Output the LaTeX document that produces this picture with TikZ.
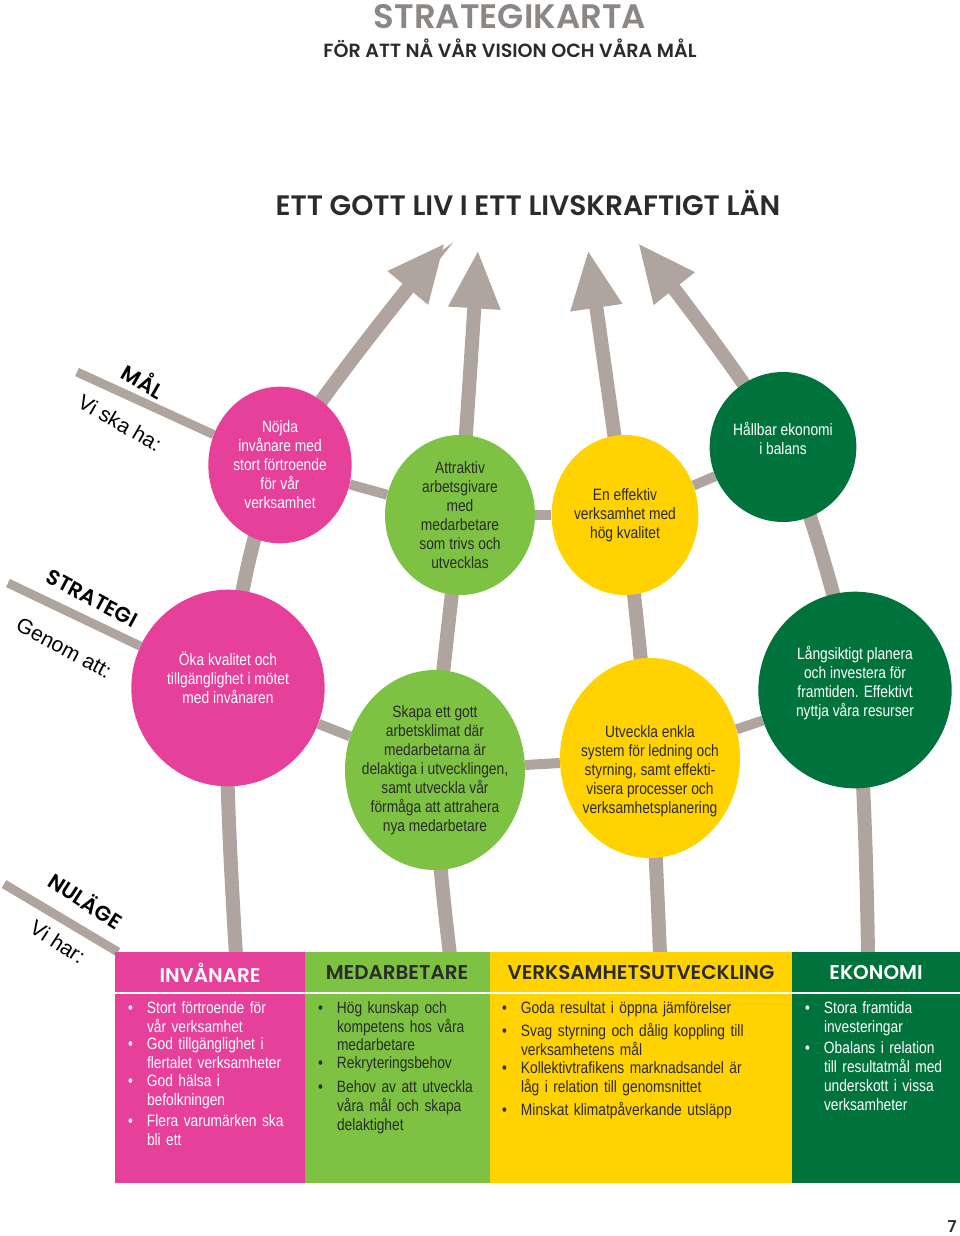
\documentclass[tikz,border=0pt]{standalone}
\usepackage{fontspec}
\setmainfont{Liberation Sans}
\newfontfamily\bodyfont[FakeStretch=0.84]{Liberation Sans}
\newfontfamily\headfont{Poppins SemiBold}[UprightFont=* ,BoldFont=*]
\usetikzlibrary{shapes.geometric,arrows.meta,backgrounds,positioning}
\definecolor{rosa}{HTML}{E6409A}
\definecolor{ljusgron}{HTML}{7DC242}
\definecolor{gul}{HTML}{FFD200}
\definecolor{morkgron}{HTML}{00733C}
\definecolor{pilgra}{HTML}{B0A59E}
\definecolor{rubrikgra}{HTML}{8C8784}
\definecolor{mork}{HTML}{2B2B2B}
\newcommand{\bul}[1]{\noindent\makebox[1.15em][l]{\textbullet}\parbox[t]{\dimexpr\linewidth-1.15em}{\raggedright #1}\par\vspace{4pt}}
\tikzset{
  mal/.style={ellipse, inner sep=0pt},
  maltext/.style={align=center, font=\bodyfont\fontsize{14}{16.2}\selectfont},
  arrowline/.style={line width=0.42cm, draw=pilgra, -{Triangle[width=1.45cm,length=1.75cm]}},
  link/.style={line width=0.3cm, draw=pilgra},
  levelline/.style={line width=0.27cm, draw=pilgra},
  colhead/.style={font=\headfont\fontsize{17}{20}\selectfont},
  listbox/.style={anchor=north west, align=left, font=\bodyfont\fontsize{14}{16.2}\selectfont},
  levelname/.style={font=\headfont\fontsize{18}{20}\selectfont},
  levelsub/.style={font=\fontsize{18}{20}\selectfont}
}
\begin{document}
\begin{tikzpicture}[x=0.03cm,y=-0.03cm]
\useasboundingbox (0,0) rectangle (960,1236);

% rubriker
\node[font=\headfont\fontsize{29}{32}\selectfont, text=rubrikgra] (titel) at (510,17) {STRATEGIKARTA};
\node[font=\headfont\fontsize{16.3}{18}\selectfont, text=mork] (undertitel) at (510,48) {FÖR ATT NÅ VÅR VISION OCH VÅRA MÅL};
\node[font=\headfont\fontsize{24}{26}\selectfont, text=mork] (vision) at (528,203) {ETT GOTT LIV I ETT LIVSKRAFTIGT LÄN};

% mål
\node[mal, fill=rosa, minimum width=4.3cm, minimum height=4.7cm,
  label={[maltext, text=white]center:Nöjda\\invånare med\\stort förtroende\\för vår\\verksamhet}] (nojda) at (280,465) {};
\node[mal, fill=ljusgron, minimum width=4.5cm, minimum height=4.8cm,
  label={[maltext, text=mork]center:Attraktiv\\arbetsgivare\\med\\medarbetare\\som trivs och\\utvecklas}] (attraktiv) at (460,515) {};
\node[mal, fill=gul, minimum width=4.4cm, minimum height=4.8cm,
  label={[maltext, text=mork]center:En effektiv\\verksamhet med\\hög kvalitet}] (effektiv) at (625,515) {};
\node[mal, fill=morkgron, minimum width=4.4cm, minimum height=4.5cm,
  label={[maltext, text=white, yshift=0.25cm]center:Hållbar ekonomi\\i balans}] (hallbar) at (783,447) {};

% strategier
\node[mal, fill=rosa, minimum width=5.8cm, minimum height=5.9cm,
  label={[maltext, text=white, yshift=0.3cm]center:Öka kvalitet och\\tillgänglighet i mötet\\med invånaren}] (oka) at (228,688) {};
\node[mal, fill=ljusgron, minimum width=5.4cm, minimum height=6cm,
  label={[maltext, text=mork]center:Skapa ett gott\\arbetsklimat där\\medarbetarna är\\delaktiga i utvecklingen,\\samt utveckla vår\\förmåga att attrahera\\nya medarbetare}] (skapa) at (435,770) {};
\node[mal, fill=gul, minimum width=5.4cm, minimum height=6cm,
  label={[maltext, text=mork, yshift=-0.4cm]center:Utveckla enkla\\system för ledning och\\styrning, samt effekti-\\visera processer och\\verksamhetsplanering}] (utveckla) at (650,758) {};
\node[mal, fill=morkgron, minimum width=5.8cm, minimum height=5.9cm,
  label={[maltext, text=white, yshift=0.2cm]center:Långsiktigt planera\\och investera för\\framtiden. Effektivt\\nyttja våra resurser}] (langsiktigt) at (855,690) {};

% ändpunkter
\coordinate (fot1) at (236,955);
\coordinate (fot2) at (450,955);
\coordinate (fot3) at (660,955);
\coordinate (fot4) at (868,955);
\coordinate (spets1) at (445,243);
\coordinate (spets2) at (478,250);
\coordinate (spets3) at (588,250);
\coordinate (spets4) at (638,243);

\begin{pgfonlayer}{background}
  \draw[arrowline] plot[smooth, tension=0.45] coordinates {(fot1) (oka) (nojda) (spets1)};
  \draw[arrowline] plot[smooth, tension=0.45] coordinates {(fot2) (skapa) (attraktiv) (spets2)};
  \draw[arrowline] plot[smooth, tension=0.45] coordinates {(fot3) (utveckla) (effektiv) (spets3)};
  \draw[arrowline] plot[smooth, tension=0.45] coordinates {(fot4) (langsiktigt) (hallbar) (spets4)};
  \draw[link] (nojda) -- (attraktiv);
  \draw[link] (attraktiv) -- (effektiv);
  \draw[link] (effektiv) -- (hallbar);
  \draw[link] (oka) -- (skapa);
  \draw[link] (skapa) -- (utveckla);
  \draw[link] (utveckla) -- (langsiktigt);
  % nivålinjer
  \coordinate (malstart) at (77,372);
  \coordinate (strategistart) at (8,583);
  \coordinate (nulagestart) at (4,884);
  \coordinate (nulageslut) at (118,952);
  \draw[levelline] (malstart) -- (nojda);
  \draw[levelline] (strategistart) -- (oka);
  \draw[levelline] (nulagestart) -- (nulageslut);
\end{pgfonlayer}

% nivåer
\node[levelname, rotate=-30] (malrubrik) at (144,380) {MÅL};
\node[levelsub, rotate=-30] (malsub) at (120,423) {Vi ska ha:};
\node[levelname, rotate=-28] (strategirubrik) at (92,598) {STRATEGI};
\node[levelsub, rotate=-28] (strategisub) at (64,648) {Genom att:};
\node[levelname, rotate=-33] (nulagerubrik) at (86,900) {NULÄGE};
\node[levelsub, rotate=-33] (nulagesub) at (58,942) {Vi har:};

% tabell
\fill[rosa] (115,952) rectangle (305,1183);
\fill[ljusgron] (305,952) rectangle (490,1183);
\fill[gul] (490,952) rectangle (792,1183);
\fill[morkgron] (792,952) rectangle (960,1183);
\draw[white, line width=0.05cm] (115,993) -- (960,993);

\node[colhead, text=white] (invanare) at (210,973) {INVÅNARE};
\node[colhead, text=mork] (medarbetare) at (397,973) {MEDARBETARE};
\node[colhead, text=mork] (verksamhet) at (641,973) {VERKSAMHETSUTVECKLING};
\node[colhead, text=white] (ekonomi) at (876,973) {EKONOMI};

\node[listbox, text=white, text width=5.3cm] (lista1) at (124,997) {%
\bul{Stort förtroende för\\vår verksamhet}
\bul{God tillgänglighet i\\flertalet verksamheter}
\bul{God hälsa i\\befolkningen}
\bul{Flera varumärken ska\\bli ett}};
\node[listbox, text=mork, text width=5.3cm] (lista2) at (314,997) {%
\bul{Hög kunskap och\\kompetens hos våra\\medarbetare}
\bul{Rekryteringsbehov}
\bul{Behov av att utveckla\\våra mål och skapa\\delaktighet}};
\node[listbox, text=mork, text width=8.8cm] (lista3) at (498,997) {%
\bul{Goda resultat i öppna jämförelser}
\bul{Svag styrning och dålig koppling till\\verksamhetens mål}
\bul{Kollektivtrafikens marknadsandel är\\låg i relation till genomsnittet}
\bul{Minskat klimatpåverkande utsläpp}};
\node[listbox, text=white, text width=4.9cm] (lista4) at (801,997) {%
\bul{Stora framtida\\investeringar}
\bul{Obalans i relation\\till resultatmål med\\underskott i vissa\\verksamheter}};

\node[font=\headfont\fontsize{14}{16}\selectfont, text=mork, anchor=south east, inner sep=1pt] (sida) at (958,1234) {7};
\end{tikzpicture}
\end{document}
